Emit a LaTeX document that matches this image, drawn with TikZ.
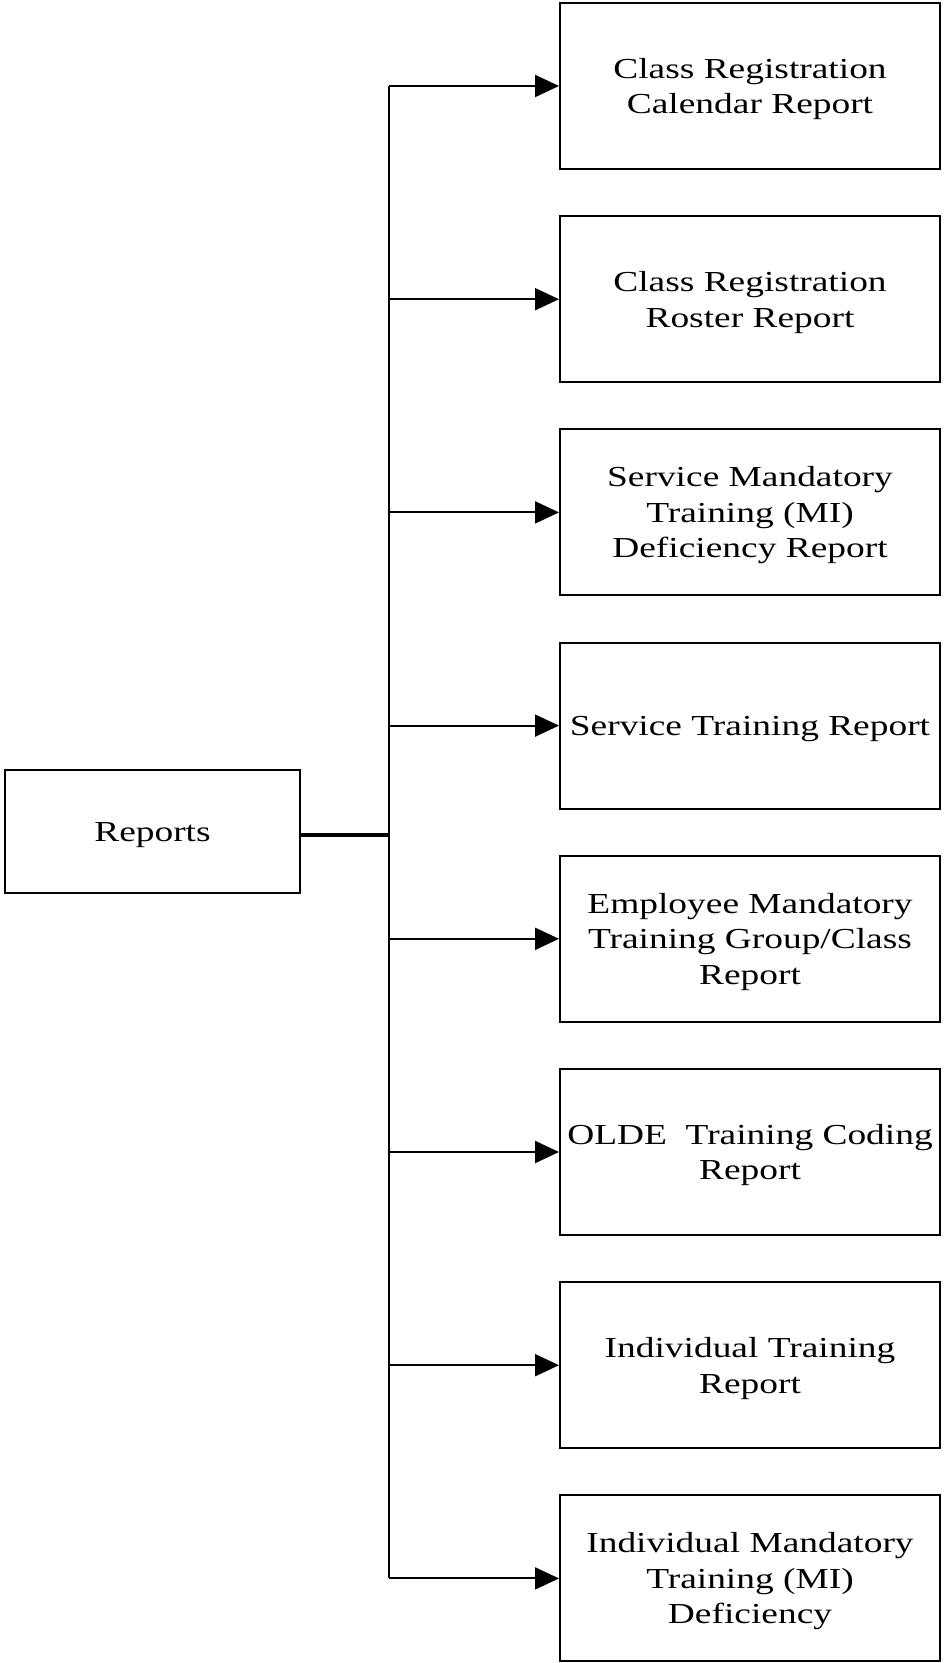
\documentclass[tikz,border=0pt]{standalone}
\usepackage{fontspec}
\setmainfont[FakeStretch=1.29]{Liberation Serif}
\usetikzlibrary{positioning}
\usetikzlibrary{arrows.meta}
\tikzset{ repbox/.style={draw, line width=2pt, inner sep=0pt,
            minimum width=380pt, minimum height=166pt, align=center,
            text depth=-4pt, font=\fontsize{29}{35.5}\selectfont},
          topbox/.style={repbox, minimum width=295pt, minimum height=123pt,
            text depth=-17pt},
          branch/.style={line width=2pt, -{Triangle[length=24pt,width=22pt]}} }

\begin{document}
\begin{tikzpicture}[x=1pt,y=-1pt]
\useasboundingbox (0,0) rectangle (943,1663);

\node[topbox] (rep) at (152.5,831.5) {Reports};
\node[repbox] (r1) at (750,86) {Class Registration\\Calendar Report};
\foreach \i/\j/\txt in {2/1/{Class Registration\\Roster Report},
    3/2/{Service Mandatory\\Training (MI)\\Deficiency Report},
    4/3/{Service Training Report},
    5/4/{Employee Mandatory\\Training Group/Class\\Report},
    6/5/{OLDE\ \ Training Coding\\Report},
    7/6/{Individual Training\\Report},
    8/7/{Individual Mandatory\\Training (MI)\\Deficiency}} %report boxes
  \node[repbox, below=45.2pt of r\j] (r\i) {\txt};

\coordinate[right=88pt of rep.east] (hub);
\draw[line width=4.5pt] ([yshift=-3.5pt]rep.east) -- ([yshift=-3.5pt]hub);
\draw[line width=2pt] (hub |- r1.west) -- (hub |- r8.west);
\foreach \i in {1,...,8} %arrows
  \draw[branch] (hub |- r\i.west) -- (r\i.west);

\end{tikzpicture}
\end{document}
